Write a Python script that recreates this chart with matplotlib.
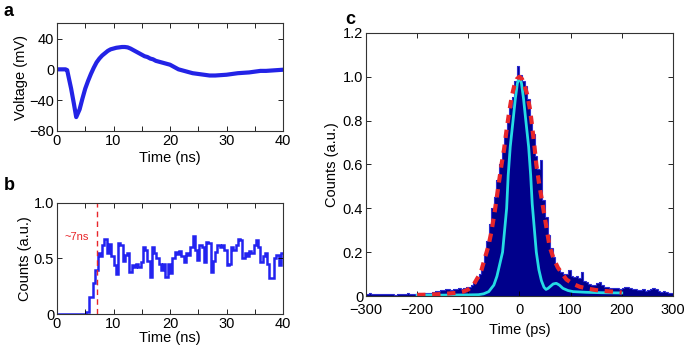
import numpy as np
import matplotlib
matplotlib.use("Agg")
import matplotlib.pyplot as plt
from matplotlib.ticker import MultipleLocator

plt.rcParams['font.family'] = ['Liberation Sans', 'DejaVu Sans']
plt.rcParams['font.size'] = 10.5

# panel a: voltage trace
t_a = [0, 0.5, 1, 1.5, 1.8, 2, 2.5, 3, 3.4, 4, 4.5, 5, 5.5, 6, 6.5, 7, 7.5, 8, 8.5,
       9, 9.5, 10, 10.5, 11, 11.5, 12, 12.5, 13, 13.5, 14, 14.5, 15, 15.5, 16,
       16.5, 17, 17.5, 18, 18.5, 19, 19.5, 20, 20.5, 21, 21.5, 22, 23, 24, 25,
       26, 27, 28, 29, 30, 31, 32, 33, 34, 35, 36, 37, 38, 39, 40]
v_a = [0, 0, 0, 0, -1, -8, -25, -45, -62, -52, -38, -25, -15, -6, 2, 9, 14, 18, 21,
       24, 26, 27, 28, 28.5, 29, 29, 28.5, 27, 25, 23, 21, 19, 17, 16,
       14, 13, 11, 10, 9, 8, 7, 6, 4, 2, 0, -1, -3, -5, -6,
       -7, -8, -8, -7.5, -7, -6, -5, -4.5, -4, -3, -2, -2, -1.5, -1, -0.5]

# panel b: counts histogram (0.4 ns bins)
edges_b = np.arange(0, 40.01, 0.4)
counts_b = [0] * 13 + [
    0.02, 0.15, 0.15, 0.28, 0.40, 0.55, 0.52, 0.62, 0.68, 0.55,
    0.63, 0.52, 0.44, 0.36, 0.64, 0.62, 0.48, 0.53, 0.55, 0.38,
    0.44, 0.42, 0.45, 0.42, 0.47, 0.60, 0.58, 0.48, 0.33, 0.60,
    0.55, 0.50, 0.45, 0.40, 0.45, 0.33, 0.45,
    0.37, 0.50, 0.56, 0.54, 0.57, 0.52, 0.47, 0.55, 0.53, 0.60,
    0.70, 0.58, 0.49, 0.62, 0.60, 0.47, 0.65, 0.64, 0.38, 0.48,
    0.56, 0.62, 0.60, 0.62, 0.58, 0.44, 0.45, 0.60, 0.58, 0.62,
    0.68, 0.67, 0.50, 0.55, 0.52, 0.57, 0.55, 0.62, 0.67, 0.60,
    0.47, 0.52, 0.55, 0.45, 0.32, 0.32, 0.50, 0.53, 0.44, 0.55]
t_delay = 7.0

# panel c: timing histogram (5 ps bins) and fits
edges_c = np.arange(-300, 300.1, 5)
counts_c = [
    0.010, 0.012, 0.008, 0.010, 0.008, 0.009, 0.007, 0.008, 0.010, 0.007,
    0.008, 0.006, 0.008, 0.007, 0.009, 0.008, 0.012, 0.010, 0.008, 0.010,
    0.012, 0.010, 0.011, 0.013, 0.012, 0.015, 0.018, 0.022,
    0.025, 0.028, 0.026, 0.032, 0.030, 0.028, 0.033, 0.030, 0.035, 0.033,
    0.038, 0.040, 0.042, 0.048, 0.060, 0.080, 0.100, 0.140, 0.190, 0.250,
    0.330, 0.400, 0.450, 0.530, 0.600, 0.660, 0.740, 0.800, 0.860, 0.910,
    0.980, 1.050,
    1.010, 0.980, 0.960, 0.900, 0.820, 0.740, 0.640, 0.580, 0.620, 0.440,
    0.360, 0.280, 0.220, 0.180, 0.140, 0.120, 0.110, 0.100, 0.100, 0.120,
    0.090, 0.085, 0.090, 0.080, 0.110, 0.070, 0.065, 0.055, 0.050, 0.048,
    0.060, 0.065, 0.050, 0.042, 0.040, 0.038, 0.035, 0.036, 0.035, 0.032,
    0.038, 0.042, 0.040, 0.035, 0.030, 0.030, 0.028, 0.026, 0.030, 0.025,
    0.028, 0.030, 0.035, 0.030, 0.025, 0.020, 0.022, 0.018, 0.015, 0.012]

t_red = [-200, -180, -160, -140, -120, -110, -100, -90, -80, -74, -68, -61, -55,
         -48, -40, -35, -30, -25, -20, -15, -10, -5, 0, 5, 10, 15, 20, 24, 29,
         33, 38, 43, 48, 53, 59, 67, 75, 84, 92, 105, 118, 135, 150, 165, 182, 200]
y_red = [0.005, 0.006, 0.008, 0.011, 0.015, 0.02, 0.03, 0.05, 0.09, 0.12, 0.17, 0.225, 0.29,
         0.39, 0.52, 0.60, 0.67, 0.76, 0.84, 0.91, 0.96, 0.99, 1.0, 0.99, 0.96, 0.92, 0.86, 0.79, 0.69,
         0.60, 0.52, 0.45, 0.38, 0.31, 0.225, 0.17, 0.13, 0.10, 0.075, 0.055, 0.042, 0.033, 0.027,
         0.023, 0.02, 0.016]

t_cyan = [-200, -150, -100, -80, -70, -60, -50, -44, -38, -33, -29, -25, -22, -18,
          -12.5, -8, -4, 0, 4, 8, 12.5, 18, 22, 25, 29, 33, 38, 43, 48, 52, 56,
          61, 66, 72, 78, 85, 95, 105, 130, 160, 200]
y_cyan = [0.004, 0.004, 0.005, 0.006, 0.01, 0.02, 0.05, 0.09, 0.15, 0.2, 0.3, 0.4, 0.55, 0.68,
          0.8, 0.9, 0.97, 1.0, 0.97, 0.9, 0.8, 0.68, 0.55, 0.42, 0.31, 0.2, 0.12, 0.07, 0.04, 0.03,
          0.035, 0.045, 0.055, 0.058, 0.05, 0.035, 0.025, 0.02, 0.017, 0.015, 0.014]

fig = plt.figure(figsize=(6.85, 3.48), dpi=100)
ax_a = fig.add_axes([0.0832, 0.6236, 0.330, 0.310])
ax_b = fig.add_axes([0.0832, 0.0977, 0.330, 0.319])
ax_c = fig.add_axes([0.5343, 0.1494, 0.448, 0.756])


def style(ax, xpad=2):
    ax.tick_params(direction='in', top=True, right=True, length=3.5, width=0.6,
                   which='both', labelsize=10.5, pad=2)
    ax.tick_params(axis='x', pad=xpad)
    for s in ax.spines.values():
        s.set_linewidth(0.8)
        s.set_color('#333333')


# a
ax_a.plot(t_a, v_a, color='#2323e6', lw=3)
ax_a.set_xlim(0, 40)
ax_a.set_ylim(-80, 60)
ax_a.set_xticks([0, 10, 20, 30, 40])
ax_a.xaxis.set_minor_locator(MultipleLocator(5))
ax_a.set_yticks([-80, -40, 0, 40])
ax_a.set_xlabel('Time (ns)', labelpad=2)
ax_a.set_ylabel('Voltage (mV)', labelpad=1)
style(ax_a)

# b
ax_b.stairs(counts_b, edges_b, baseline=None, color='#2323f0', lw=1.8)
ax_b.axvline(t_delay, color='#e8262a', lw=1, ls=(0, (4, 3)))
ax_b.text(5.7, 0.69, '~7ns', color='#e8262a', fontsize=8, ha='right', va='center')
ax_b.set_xlim(0, 40)
ax_b.set_ylim(0, 1)
ax_b.set_xticks([0, 10, 20, 30, 40])
ax_b.xaxis.set_minor_locator(MultipleLocator(5))
ax_b.set_yticks([0, 0.5, 1.0])
ax_b.set_yticklabels(['0', '0.5', '1.0'])
ax_b.set_xlabel('Time (ns)', labelpad=0)
ax_b.set_ylabel('Counts (a.u.)', labelpad=1)
style(ax_b)

# c
ax_c.stairs(counts_c, edges_c, fill=True, color='#00008b', zorder=1)
ax_c.stairs(counts_c, edges_c, baseline=None, color='#2b2bd0', lw=0.8, zorder=1)
ax_c.plot(t_cyan, y_cyan, color='#25dbe4', lw=2, zorder=2)
ax_c.plot(t_red, y_red, color='#e8262a', lw=3, dashes=(2, 1.6), zorder=3)
ax_c.set_xlim(-300, 300)
ax_c.set_ylim(0, 1.2)
ax_c.set_xticks(np.arange(-300, 301, 100))
ax_c.set_yticks(np.arange(0, 1.21, 0.2))
ax_c.set_yticklabels(['0', '0.2', '0.4', '0.6', '0.8', '1.0', '1.2'])
ax_c.set_xlabel('Time (ps)', labelpad=4)
ax_c.set_ylabel('Counts (a.u.)', labelpad=3)
style(ax_c, xpad=5)

fig.text(9 / 685, 1 - 12 / 348, 'a', fontsize=13, fontweight='bold', ha='center', va='center')
fig.text(9 / 685, 1 - 185 / 348, 'b', fontsize=13, fontweight='bold', ha='center', va='center')
fig.text(350 / 685, 1 - 20 / 348, 'c', fontsize=13, fontweight='bold', ha='center', va='center')

fig.savefig('out.png', dpi=100)
